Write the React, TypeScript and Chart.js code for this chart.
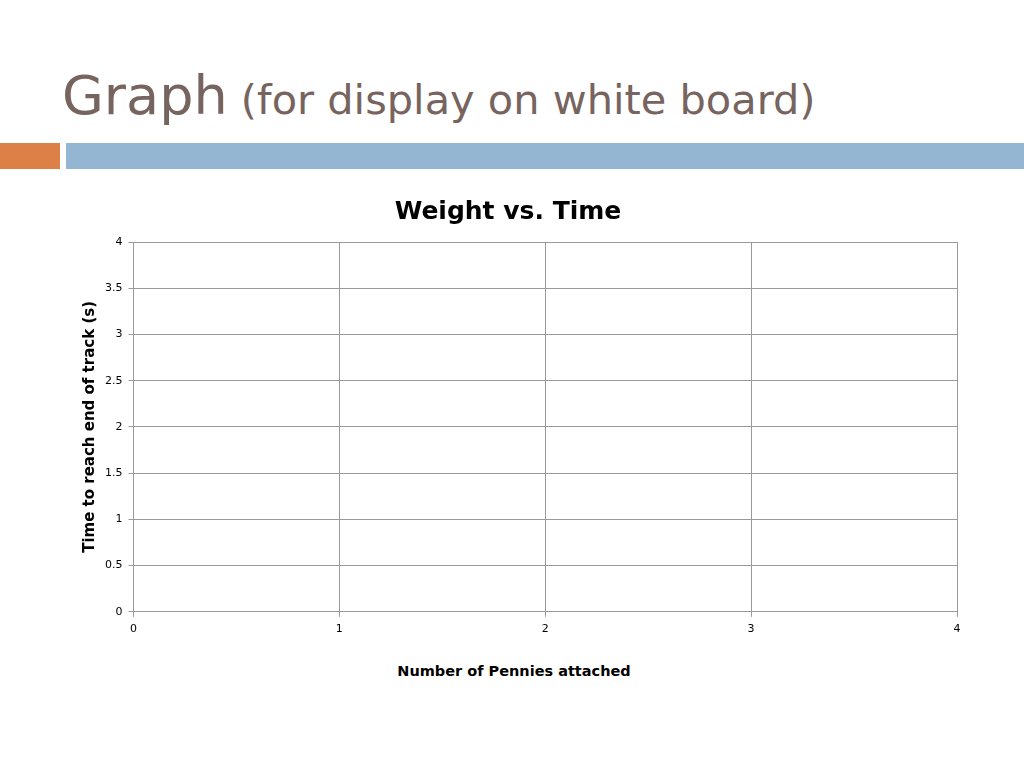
import { useEffect, useRef } from "react";
import { Chart, registerables } from "chart.js";

Chart.register(...registerables);

// Axis ranges / ticks (the chart itself is an empty template)
const xTicks = [0, 1, 2, 3, 4];
const yTicks = [0, 0.5, 1, 1.5, 2, 2.5, 3, 3.5, 4];
// No measurements yet: the graph is meant to be filled in on the white board
const pennies: number[] = [];
const times: number[] = [];

const GRID = "#9a9a9a";
const FONT_COMIC = "'Comic Sans MS', 'DejaVu Sans', sans-serif";
const FONT_TICK = "'DejaVu Sans', Verdana, sans-serif";

const WeightTimeChart = () => {
  const canvasRef = useRef<HTMLCanvasElement>(null);
  const chartRef = useRef<Chart | null>(null);

  useEffect(() => {
    if (!canvasRef.current) return;
    if (chartRef.current) chartRef.current.destroy();

    const points = pennies.map((p, i) => ({ x: p, y: times[i] }));

    chartRef.current = new Chart(canvasRef.current, {
      type: "scatter",
      data: {
        datasets: [
          {
            label: "Time",
            data: points,
            backgroundColor: "#4f81bd",
            borderColor: "#4f81bd",
          },
        ],
      },
      options: {
        animation: false,
        responsive: false,
        maintainAspectRatio: false,
        layout: { padding: { left: 0, right: 43, top: 0, bottom: 0 } },
        plugins: {
          legend: { display: false },
          tooltip: { enabled: false },
          title: {
            display: true,
            text: "Weight vs. Time",
            color: "#000",
            font: { family: FONT_COMIC, size: 25, weight: "bold" },
            padding: { top: 12, bottom: 15 },
          },
        },
        scales: {
          x: {
            type: "linear",
            min: xTicks[0],
            max: xTicks[xTicks.length - 1],
            afterBuildTicks: (axis) => {
              axis.ticks = xTicks.map((v) => ({ value: v }));
            },
            grid: { color: GRID, tickLength: 5, drawTicks: true },
            border: { color: GRID },
            ticks: {
              color: "#000",
              font: { family: FONT_TICK, size: 11 },
              padding: 6,
              callback: (v) => String(v),
            },
          },
          y: {
            type: "linear",
            min: yTicks[0],
            max: yTicks[yTicks.length - 1],
            afterBuildTicks: (axis) => {
              axis.ticks = yTicks.map((v) => ({ value: v }));
            },
            grid: { color: GRID, tickLength: 5, drawTicks: true },
            border: { color: GRID },
            ticks: {
              color: "#000",
              font: { family: FONT_TICK, size: 11 },
              padding: 6,
              callback: (v) => String(v),
            },
            title: {
              display: true,
              text: "Time to reach end of track (s)",
              color: "#000",
              font: { family: FONT_COMIC, size: 15, weight: "bold" },
              padding: { top: 22, bottom: 0 },
            },
          },
        },
      },
    });

    return () => {
      if (chartRef.current) {
        chartRef.current.destroy();
        chartRef.current = null;
      }
    };
  }, []);

  return (
    <canvas
      ref={canvasRef}
      width={941}
      height={457}
      style={{ position: "absolute", left: 59, top: 185, width: 941, height: 457 }}
    />
  );
};

export default function App() {
  return (
    <div
      style={{
        position: "fixed",
        left: 0,
        top: 0,
        width: 1024,
        height: 768,
        background: "#fff",
        overflow: "hidden",
      }}
    >
      <div
        style={{
          position: "absolute",
          left: 62,
          top: 69,
          color: "#77645e",
          fontFamily: "'Century Gothic', 'DejaVu Sans', sans-serif",
          whiteSpace: "nowrap",
          lineHeight: 1,
        }}
      >
        <span style={{ fontSize: 54 }}>Graph</span>
        <span style={{ fontSize: 41.5 }}> (for display on white board)</span>
      </div>
      <div style={{ position: "absolute", left: 0, top: 143, width: 60, height: 26, background: "#dd8047" }} />
      <div style={{ position: "absolute", left: 66, top: 143, width: 958, height: 26, background: "#94b6d2" }} />
      <WeightTimeChart />
      <div
        style={{
          position: "absolute",
          left: 314,
          width: 400,
          top: 661,
          textAlign: "center",
          fontFamily: FONT_COMIC,
          fontWeight: "bold",
          fontSize: 14.5,
          lineHeight: "20px",
          color: "#000",
        }}
      >
        Number of Pennies attached
      </div>
    </div>
  );
}
